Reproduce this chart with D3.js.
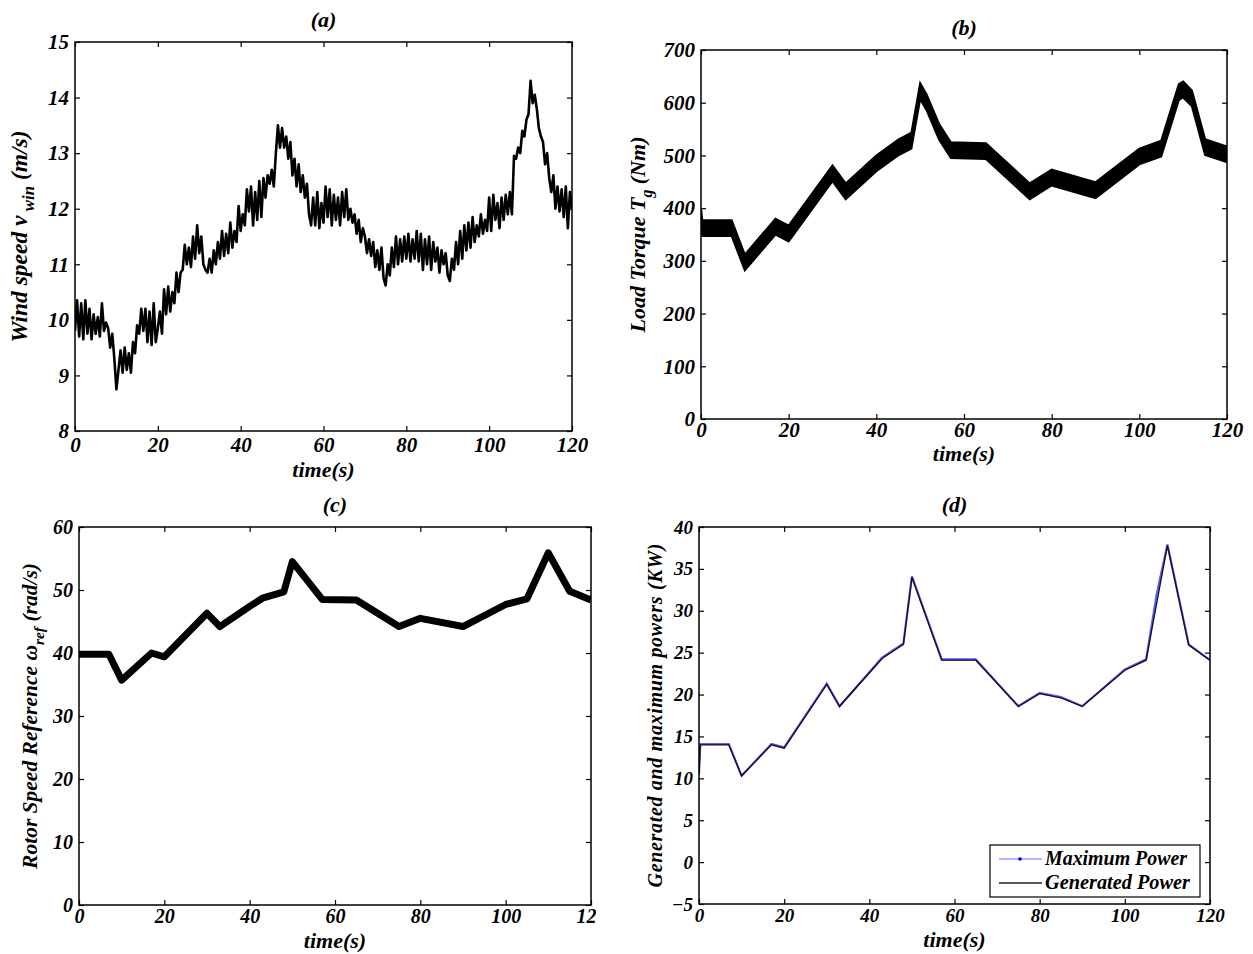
<!DOCTYPE html>
<html><head><meta charset="utf-8">
<script src="https://cdn.jsdelivr.net/npm/d3@7"></script>
<style>
body{margin:0;background:#fff;}
svg text{font-family:"Liberation Serif","Times New Roman",serif;font-weight:bold;font-style:italic;fill:#000;}
</style></head><body>
<svg id="chart" width="1253" height="954"></svg>
<script>
// ---------- DATA ----------
const timeTicks = [0, 20, 40, 60, 80, 100, 120];
const windTicks = [8, 9, 10, 11, 12, 13, 14, 15];
const torqueTicks = [0, 100, 200, 300, 400, 500, 600, 700];
const rotorTicks = [0, 10, 20, 30, 40, 50, 60];
const powerTicks = [-5, 0, 5, 10, 15, 20, 25, 30, 35, 40];

// (a) wind speed, sampled every 0.5 s from 0 to 120 s
const windStep = 0.5;
const windSpeed = [
  9.8, 10.35, 9.7, 10.3, 9.65, 10.35, 9.75, 10.2, 9.65, 10.1,
  9.75, 10.05, 9.7, 10.3, 9.8, 9.95, 9.85, 9.5, 9.75, 9.3,
  8.75, 9.1, 9.45, 9.05, 9.5, 9.1, 9.4, 9.05, 9.6, 9.4,
  9.9, 9.75, 10.2, 9.8, 10.2, 9.6, 10.15, 9.55, 10.3, 9.6,
  9.85, 10.15, 9.75, 10.55, 10.1, 10.6, 10.15, 10.5, 10.3, 10.85,
  10.5, 10.85, 10.9, 11.35, 11.0, 11.3, 10.95, 11.5, 11.1, 11.7,
  11.2, 11.5, 11.0, 10.9, 10.85, 11.1, 10.85, 11.25, 11.0, 11.4,
  11.1, 11.6, 11.15, 11.55, 11.2, 11.75, 11.3, 11.6, 11.4, 12.05,
  11.6, 11.9, 11.7, 12.35, 11.95, 12.4, 11.7, 12.3, 11.8, 12.5,
  11.85, 12.55, 12.2, 12.6, 12.45, 12.7, 12.4, 13.0, 13.5, 13.1,
  13.45, 13.1, 13.3, 12.9, 13.2, 12.6, 12.9, 12.4, 12.8, 12.3,
  12.6, 12.2, 12.45, 11.9, 11.7, 12.2, 11.7, 12.3, 11.65, 12.1,
  11.75, 12.4, 11.85, 12.35, 11.7, 12.25, 11.8, 12.2, 11.7, 12.3,
  11.85, 12.35, 11.8, 12.0, 11.75, 11.9, 11.55, 11.8, 11.4, 11.65,
  11.5, 11.2, 11.45, 11.15, 11.4, 10.95, 11.25, 10.9, 11.3, 10.75,
  10.62, 11.0, 10.8, 11.3, 10.95, 11.5, 11.0, 11.45, 11.05, 11.5,
  11.1, 11.55, 11.05, 11.45, 11.1, 11.6, 11.05, 11.55, 10.9, 11.45,
  11.0, 11.5, 10.9, 11.4, 11.05, 11.3, 10.85, 11.25, 11.0, 11.2,
  10.8, 10.7, 11.1, 10.9, 11.4, 11.0, 11.6, 11.1, 11.7, 11.25,
  11.75, 11.3, 11.85, 11.4, 11.7, 11.5, 11.9, 11.55, 11.8, 11.6,
  12.2, 11.6, 12.25, 11.8, 12.1, 11.65, 12.2, 11.8, 12.25, 11.9,
  12.3, 11.9, 12.95, 12.9, 13.1, 13.0, 13.4, 13.3, 13.6, 13.7,
  14.3, 13.9, 14.05, 13.8, 13.45, 13.3, 13.2, 12.8, 13.0, 12.55,
  12.3, 12.6, 12.0, 12.4, 11.95, 12.35, 11.85, 12.4, 11.65, 12.3,
  12.0
];

// (b) load torque: centre of the noisy band and its half width
const torqueTime   = [0, 0.3, 7, 10, 17, 20, 30, 33, 40, 45, 48, 50, 51.5, 54.3, 57, 65, 75, 80, 90, 100, 105, 109, 110, 112, 115, 120];
const torqueCenter = [385, 362, 362, 297, 365, 352, 466, 432, 485, 515, 528, 622, 600, 545, 510, 508, 432, 458, 434, 498, 513, 620, 625, 608, 516, 502];
const torqueHalfBand = 15;

// (c) rotor speed reference
const rotorTime = [0, 7, 10, 17, 20, 30, 33, 40, 43, 48, 50, 57, 65, 75, 80, 90, 100, 105, 110, 115, 120];
const rotorRef  = [39.8, 39.8, 35.7, 40.0, 39.4, 46.3, 44.2, 47.4, 48.7, 49.7, 54.5, 48.5, 48.4, 44.2, 45.5, 44.2, 47.7, 48.6, 55.9, 49.8, 48.4];

// (d) generated and maximum powers (kW)
const genTime  = [0, 0.3, 7, 10, 17, 20, 30, 33, 43, 48, 50, 57, 65, 75, 80, 85, 90, 100, 105, 110, 115, 120];
const genPower = [10.5, 14.0, 14.0, 10.3, 14.0, 13.6, 21.2, 18.6, 24.3, 26.0, 34.0, 24.1, 24.1, 18.6, 20.1, 19.6, 18.6, 22.9, 24.1, 37.8, 25.9, 24.1];
const maxTime  = [0, 0.3, 7, 10, 17, 20, 30, 33, 43, 48, 50, 57, 65, 75, 80, 85, 90, 100, 105, 107.5, 110, 115, 120];
const maxPower = [10.5, 14.1, 14.1, 10.3, 14.1, 13.7, 21.3, 18.6, 24.4, 26.1, 34.1, 24.2, 24.2, 18.6, 20.2, 19.7, 18.6, 23.0, 24.2, 32.0, 37.9, 26.0, 24.1];

const legendLabels = ["Maximum Power", "Generated Power"];

// ---------- DRAWING ----------
const svg = d3.select("#chart");

function panel(cfg) {
  const w = cfg.right - cfg.left, h = cfg.bottom - cfg.top;
  const g = svg.append("g").attr("transform", `translate(${cfg.left},${cfg.top})`);
  const x = d3.scaleLinear().domain([0, 120]).range([0, w]);
  const y = d3.scaleLinear().domain(cfg.yDomain).range([h, 0]);
  const id = "clip" + cfg.key;
  g.append("clipPath").attr("id", id).append("rect").attr("x", 0).attr("y", 0).attr("width", w).attr("height", h);
  const plot = g.append("g").attr("clip-path", `url(#${id})`);

  const styleAxis = sel => {
    sel.attr("font-family", null).attr("font-size", cfg.tickFS);
    sel.selectAll(".tick line").attr("stroke", "#000").attr("stroke-width", 1.2);
    sel.select(".domain").remove();
  };
  const labelLayer = g.append("g");
  if (cfg.labelClip) {
    const lid = "lclip" + cfg.key;
    g.append("clipPath").attr("id", lid).append("rect").attr("x", -200).attr("y", -200).attr("width", w + cfg.labelClip + 200).attr("height", h + 400);
    labelLayer.attr("clip-path", `url(#${lid})`);
  }
  labelLayer.append("g").attr("transform", `translate(0,${h})`)
    .call(d3.axisBottom(x).tickValues(timeTicks).tickSize(-5).tickSizeOuter(0).tickPadding(cfg.xTickPad).tickFormat(d3.format("d")))
    .call(styleAxis);
  g.append("g")
    .call(d3.axisLeft(y).tickValues(cfg.yTicks).tickSize(-5).tickSizeOuter(0).tickPadding(6).tickFormat(d3.format("d")))
    .call(styleAxis);
  g.append("g")
    .call(d3.axisTop(x).tickValues(timeTicks).tickSize(-5).tickSizeOuter(0).tickFormat(""))
    .call(styleAxis);
  g.append("g").attr("transform", `translate(${w},0)`)
    .call(d3.axisRight(y).tickValues(cfg.yTicks).tickSize(-5).tickSizeOuter(0).tickFormat(""))
    .call(styleAxis);
  g.append("rect").attr("width", w).attr("height", h).attr("fill", "none").attr("stroke", "#000").attr("stroke-width", 1.5);

  // title
  g.append("text").attr("x", w / 2).attr("y", -15).attr("text-anchor", "middle").attr("font-size", 22).text(cfg.title);
  // x label
  g.append("text").attr("x", w / 2).attr("y", h + cfg.xLabelOff).attr("text-anchor", "middle").attr("font-size", 22).text("time(s)");
  // y label
  const t = svg.append("text")
    .attr("transform", `translate(${cfg.yLabelX},${(cfg.top + cfg.bottom) / 2}) rotate(-90)`)
    .attr("text-anchor", "middle").attr("font-size", cfg.yLabelFS);
  if (cfg.yLabelLen) t.attr("textLength", cfg.yLabelLen).attr("lengthAdjust", "spacing");
  cfg.yLabel.forEach(p => {
    const s = t.append("tspan").text(p.t);
    if (p.sub) s.attr("dy", 7).attr("font-size", cfg.yLabelFS * 0.72);
    if (p.back) s.attr("dy", -7);
  });
  return { plot, x, y, w, h, g };
}

// (a)
{
  const p = panel({ key: "a", left: 75, right: 572, top: 42, bottom: 431, yDomain: [8, 15], yTicks: windTicks,
    title: "(a)", xLabelOff: 46, yLabelX: 27, yLabelFS: 23.5, tickFS: 21, xTickPad: 6,
    yLabel: [{ t: "Wind speed v" }, { t: " win", sub: true }, { t: " (m/s)", back: true }] });
  p.plot.append("path").datum(windSpeed)
    .attr("fill", "none").attr("stroke", "#000").attr("stroke-width", 2.6).attr("stroke-linejoin", "round")
    .attr("d", d3.line().x((d, i) => p.x(i * windStep)).y(d => p.y(d)));
}
// (b)
{
  const p = panel({ key: "b", left: 701, right: 1227, top: 50, bottom: 419, yDomain: [0, 700], yTicks: torqueTicks,
    title: "(b)", xLabelOff: 42, yLabelX: 645, yLabelFS: 22, tickFS: 21, xTickPad: 3,
    yLabel: [{ t: "Load Torque T" }, { t: "g", sub: true }, { t: " (Nm)", back: true }] });
  const data = torqueTime.map((t, i) => ({ t, v: torqueCenter[i] }));
  p.plot.append("path").datum(data)
    .attr("fill", "#000").attr("stroke", "#000").attr("stroke-width", 2)
    .attr("d", d3.area().x(d => p.x(d.t)).y0(d => p.y(d.v - torqueHalfBand)).y1(d => p.y(d.v + torqueHalfBand)));
}
// (c)
{
  const p = panel({ key: "c", left: 79, right: 591, top: 527, bottom: 905, yDomain: [0, 60], yTicks: rotorTicks,
    title: "(c)", xLabelOff: 43, yLabelX: 37, yLabelFS: 21.5, tickFS: 20, xTickPad: 4, labelClip: 5,
    yLabel: [{ t: "Rotor Speed Reference ω" }, { t: "ref", sub: true }, { t: " (rad/s)", back: true }] });
  const data = rotorTime.map((t, i) => ({ t, v: rotorRef[i] }));
  p.plot.append("path").datum(data)
    .attr("fill", "none").attr("stroke", "#000").attr("stroke-width", 7).attr("stroke-linejoin", "round")
    .attr("d", d3.line().x(d => p.x(d.t)).y(d => p.y(d.v)));
}
// (d)
{
  const p = panel({ key: "d", left: 699, right: 1210, top: 527, bottom: 904, yDomain: [-5, 40], yTicks: powerTicks,
    title: "(d)", xLabelOff: 43, yLabelX: 662, yLabelFS: 20, yLabelLen: 344, tickFS: 19, xTickPad: 5,
    yLabel: [{ t: "Generated and maximum powers (KW)" }] });
  const maxData = maxTime.map((t, i) => ({ t, v: maxPower[i] }));
  const genData = genTime.map((t, i) => ({ t, v: genPower[i] }));
  const line = d3.line().x(d => p.x(d.t)).y(d => p.y(d.v));
  p.plot.append("path").datum(maxData).attr("fill", "none").attr("stroke", "#5a5aff").attr("stroke-width", 2.2).attr("d", line);
  p.plot.append("path").datum(genData).attr("fill", "none").attr("stroke", "#111").attr("stroke-width", 1.3).attr("d", line);

  // legend
  const lg = svg.append("g").attr("transform", "translate(990,845)");
  lg.append("rect").attr("width", 210).attr("height", 52).attr("fill", "#fff").attr("stroke", "#000").attr("stroke-width", 1.2);
  const rows = [{ c: "#9a9aff", dot: true }, { c: "#222", dot: false }];
  rows.forEach((r, i) => {
    const yy = 14 + i * 24;
    lg.append("line").attr("x1", 9).attr("x2", 52).attr("y1", yy).attr("y2", yy).attr("stroke", r.c).attr("stroke-width", 1.3);
    if (r.dot) lg.append("circle").attr("cx", 30).attr("cy", yy).attr("r", 1.8).attr("fill", "#0000ff");
    lg.append("text").attr("x", 55).attr("y", yy + 6).attr("font-size", 20)
      .attr("textLength", i === 0 ? 142 : 145).attr("lengthAdjust", "spacingAndGlyphs").text(legendLabels[i]);
  });
}
</script>
</body></html>
